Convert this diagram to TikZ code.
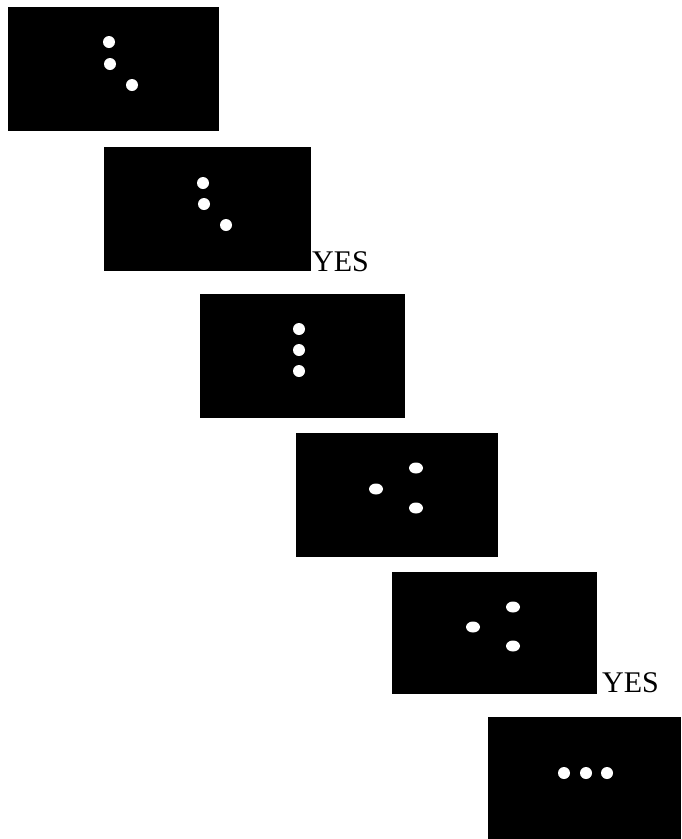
\documentclass[tikz,border=0pt]{standalone}
\usepackage{fontspec}
\setmainfont{Liberation Serif}
\usetikzlibrary{shapes.geometric}

\begin{document}
\begin{tikzpicture}
    [x=1pt, y=-1pt,
    frame/.style={anchor=north west, fill=black, inner sep=0pt, outer sep=0pt, minimum height=124pt},
    dot/.style={circle, fill=white, inner sep=0pt, minimum size=12pt},
    oval/.style={ellipse, fill=white, inner sep=0pt, minimum width=14pt, minimum height=11pt},
    answer/.style={anchor=base west, inner sep=0pt, font=\fontsize{30}{30}\selectfont}]
        \useasboundingbox (0,0) rectangle (681,839);

        \node[frame, minimum width=211pt] (A) at (8,7) {};
        \node[dot] (A1) at (109,42) {};
        \node[dot] (A2) at (110,64) {};
        \node[dot] (A3) at (132,85) {};

        \node[frame, minimum width=207pt] (B) at (104,147) {};
        \node[dot] (B1) at (203,183) {};
        \node[dot] (B2) at (204,204) {};
        \node[dot] (B3) at (226,225) {};
        \node[answer] (B4) at (312,271) {YES};

        \node[frame, minimum width=205pt] (C) at (200,294) {};
        \node[dot] (C1) at (299,329) {};
        \node[dot] (C2) at (299,350) {};
        \node[dot] (C3) at (299,371) {};

        \node[frame, minimum width=202pt] (D) at (296,433) {};
        \node[oval] (D1) at (416,468) {};
        \node[oval] (D2) at (376,489) {};
        \node[oval] (D3) at (416,508) {};

        \node[frame, minimum width=205pt, minimum height=122pt] (E) at (392,572) {};
        \node[oval] (E1) at (513,607) {};
        \node[oval] (E2) at (473,627) {};
        \node[oval] (E3) at (513,646) {};
        \node[answer] (E4) at (602,692) {YES};

        \node[frame, minimum width=193pt, minimum height=122pt] (F) at (488,717) {};
        \node[dot] (F1) at (564,773) {};
        \node[dot] (F2) at (586,773) {};
        \node[dot] (F3) at (607,773) {};
   \end{tikzpicture}
\end{document}
